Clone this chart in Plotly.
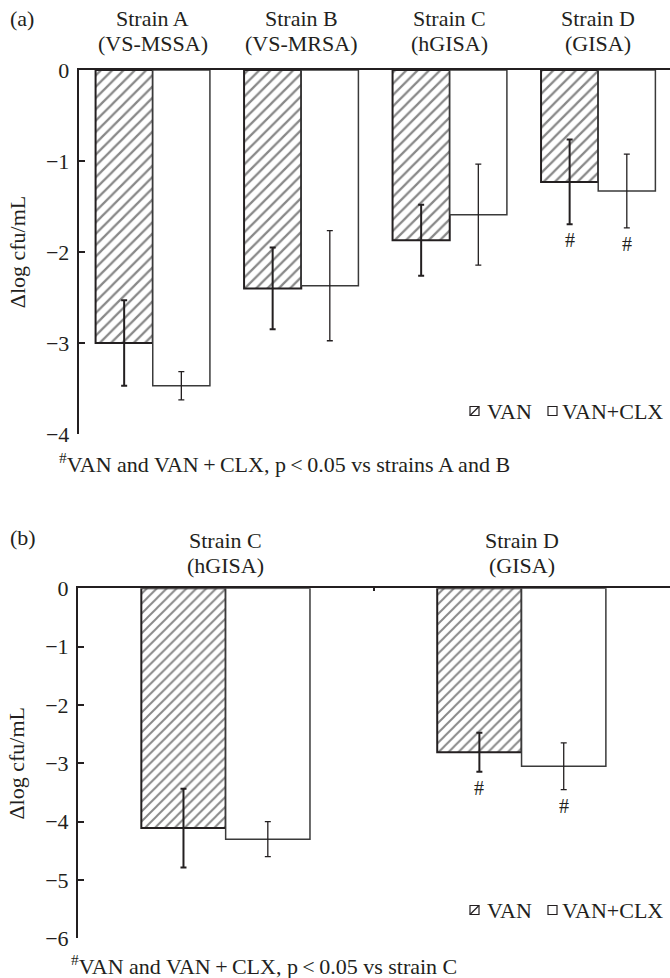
import plotly.graph_objects as go

# ---------------- data ----------------
strains_a = ["Strain A", "Strain B", "Strain C", "Strain D"]
phenos_a = ["(VS-MSSA)", "(VS-MRSA)", "(hGISA)", "(GISA)"]
van_a = [-3.00, -2.40, -1.87, -1.23]
van_a_err = [0.47, 0.45, 0.39, 0.465]
clx_a = [-3.47, -2.37, -1.59, -1.33]
clx_a_err = [0.155, 0.605, 0.555, 0.405]
sig_a = [False, False, False, True]

strains_b = ["Strain C", "Strain D"]
phenos_b = ["(hGISA)", "(GISA)"]
van_b = [-4.11, -2.81]
van_b_err = [0.675, 0.335]
clx_b = [-4.30, -3.05]
clx_b_err = [0.30, 0.40]
sig_b = [False, True]

series_names = ["VAN", "VAN+CLX"]
ytitle = "\u0394log cfu/mL"
foot_a = "<sup>#</sup>VAN and VAN\u2009+\u2009CLX, p\u2009&lt;\u20090.05 vs strains A and B"
foot_b = "<sup>#</sup>VAN and VAN\u2009+\u2009CLX, p\u2009&lt;\u20090.05 vs strain C"

# ---------------- style ----------------
W, H = 670, 978
FONT = "Liberation Serif"
INK = "#231f20"
FS = 22


def py(pix):
    return 1 - pix / H


def px(pix):
    return pix / W


fig = go.Figure()


def add_panel(strains, van, van_err, clx, clx_err, xa, ya, w, hatch_size):
    fig.add_trace(go.Bar(
        x=strains, y=van, name=series_names[0], xaxis=xa, yaxis=ya,
        width=w, offset=-w, showlegend=False,
        marker=dict(color="white", line=dict(color=INK, width=2),
                    pattern=dict(shape="/", fgcolor="#111111", bgcolor="white",
                                 size=hatch_size, solidity=0.28)),
        error_y=dict(type="data", array=van_err, color=INK, thickness=2, width=3),
    ))
    fig.add_trace(go.Bar(
        x=strains, y=clx, name=series_names[1], xaxis=xa, yaxis=ya,
        width=w, offset=0, showlegend=False,
        marker=dict(color="white", line=dict(color="#3a3a3a", width=1.5)),
        error_y=dict(type="data", array=clx_err, color=INK, thickness=1.3, width=3),
    ))


w_a = 0.385
w_b = 0.285
add_panel(strains_a, van_a, van_a_err, clx_a, clx_a_err, "x", "y", w_a, 8)
add_panel(strains_b, van_b, van_b_err, clx_b, clx_b_err, "x2", "y2", w_b, 7)

annotations = []
shapes = []


def txt(x, y, text, xref="paper", yref="paper", xanchor="center", size=FS, yshift=0):
    annotations.append(dict(x=x, y=y, xref=xref, yref=yref, text=text, showarrow=False,
                            xanchor=xanchor, yanchor="middle", yshift=yshift,
                            font=dict(family=FONT, size=size, color=INK)))


def sig_marks(sig, van, van_err, clx, clx_err, w, xref, yref):
    for i, s in enumerate(sig):
        if not s:
            continue
        for x, y, e in ((i - w / 2, van[i], van_err[i]), (i + w / 2, clx[i], clx_err[i])):
            txt(x, y - e, "#", xref=xref, yref=yref, size=FS - 2, yshift=-16)


sig_marks(sig_a, van_a, van_a_err, clx_a, clx_a_err, w_a, "x", "y")
sig_marks(sig_b, van_b, van_b_err, clx_b, clx_b_err, w_b, "x2", "y2")

# category headers (two lines each)
for i, (s, p) in enumerate(zip(strains_a, phenos_a)):
    txt(i, py(18), s, xref="x")
    txt(i, py(43), p, xref="x")
for i, (s, p) in enumerate(zip(strains_b, phenos_b)):
    txt(i, py(540), s, xref="x2")
    txt(i, py(565), p, xref="x2")

txt(px(8), py(18), "(a)", xanchor="left")
txt(px(8), py(537), "(b)", xanchor="left")
txt(px(57), py(463), foot_a, xanchor="left")
txt(px(69), py(965), foot_b, xanchor="left")


# manual legends
def legend(yc):
    s = 9
    shapes.append(dict(type="rect", xref="paper", yref="paper",
                       x0=px(470), x1=px(470 + s), y0=py(yc + s / 2), y1=py(yc - s / 2),
                       line=dict(color=INK, width=1.2), fillcolor="white"))
    shapes.append(dict(type="line", xref="paper", yref="paper",
                       x0=px(470), x1=px(470 + s), y0=py(yc + s / 2), y1=py(yc - s / 2),
                       line=dict(color=INK, width=1.2)))
    txt(px(485), py(yc), series_names[0], xanchor="left")
    shapes.append(dict(type="rect", xref="paper", yref="paper",
                       x0=px(548), x1=px(548 + s), y0=py(yc + s / 2), y1=py(yc - s / 2),
                       line=dict(color=INK, width=1.2), fillcolor="white"))
    txt(px(560), py(yc), series_names[1], xanchor="left")


legend(411)
legend(910)

axis_common = dict(showgrid=False, zeroline=False, showline=True, linecolor=INK,
                   linewidth=1.5, automargin=False,
                   tickfont=dict(family=FONT, size=FS, color=INK))

fig.update_layout(
    width=W, height=H,
    margin=dict(l=0, r=0, t=0, b=0, autoexpand=False),
    paper_bgcolor="white", plot_bgcolor="white",
    barmode="overlay",
    font=dict(family=FONT, size=FS, color=INK),
    xaxis=dict(**axis_common, domain=[px(78.5), px(669.5)], type="category",
               range=[-0.5, 3.48], side="top", anchor="y", ticks="",
               showticklabels=False),
    yaxis=dict(**axis_common, domain=[py(434), py(70)], range=[-4, 0], dtick=1,
               ticks="inside", ticklen=7, tickwidth=1.5, tickcolor=INK, anchor="x",
               ticklabelstandoff=3,
               title=dict(text=ytitle, standoff=14, font=dict(family=FONT, size=FS, color=INK))),
    xaxis2=dict(**axis_common, domain=[px(77.7), px(669.5)], type="category",
                range=[-0.5, 1.5], side="top", anchor="y2", ticks="inside",
                tickson="boundaries", ticklen=3, tickwidth=1.5, tickcolor=INK,
                showticklabels=False),
    yaxis2=dict(**axis_common, domain=[py(938.3), py(588.3)], range=[-6, 0], dtick=1,
                ticks="inside", ticklen=7, tickwidth=1.5, tickcolor=INK, anchor="x2",
                ticklabelstandoff=3,
                title=dict(text=ytitle, standoff=14, font=dict(family=FONT, size=FS, color=INK))),
    annotations=annotations,
    shapes=shapes,
    showlegend=False,
)

fig.write_html(
    "out.html",
    config={"displayModeBar": False},
    post_script="document.body.style.margin='0';document.body.style.overflow='hidden';",
)
